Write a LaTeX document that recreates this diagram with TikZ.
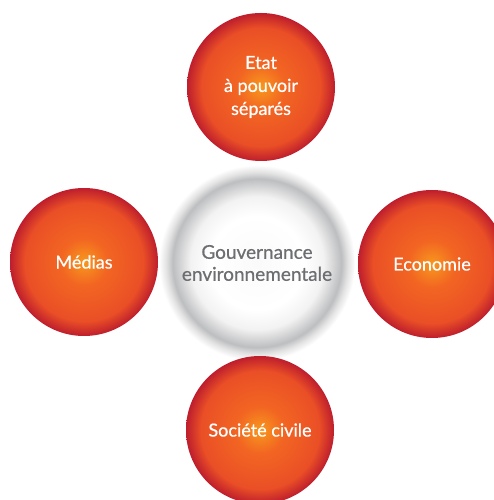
\documentclass[tikz,border=0pt]{standalone}
\usepackage{fontspec}
\setmainfont{Lato}
\newfontfamily\medfont{Lato}[FakeBold=0.6]
\definecolor{orbA}{HTML}{F8981D}
\definecolor{orbB}{HTML}{F26522}
\definecolor{orbC}{HTML}{EA4F26}
\definecolor{orbD}{HTML}{BE1E2D}
\definecolor{glowG}{HTML}{BDBEC0}
\definecolor{txtG}{HTML}{6D6E71}
\pgfdeclareradialshading{orb}{\pgfpoint{0bp}{0bp}}{color(0bp)=(orbA); color(8bp)=(orbB); color(20bp)=(orbC); color(25bp)=(orbD); color(50bp)=(orbD)}
\pgfdeclareradialshading{glow}{\pgfpoint{0bp}{0bp}}{color(0bp)=(white!96!gray); color(12bp)=(white); color(17bp)=(white!90!gray); color(21.5bp)=(glowG); color(23.2bp)=(white!78!gray); color(25bp)=(white); color(50bp)=(white)}
\tikzset{
  orbnode/.style={circle, minimum size=148pt, inner sep=0pt, shading=orb, text=white, font=\medfont\fontsize{18}{23}\selectfont, align=center},
  glownode/.style={circle, minimum size=196pt, inner sep=0pt, shading=glow, text=txtG, font=\medfont\fontsize{19}{22}\selectfont, align=center}
}
\begin{document}
\begin{tikzpicture}[x=1pt,y=1pt]
\useasboundingbox (0,0) rectangle (493,500);
\fill[white] (0,0) rectangle (493,500);
\node[glownode] (gouv) at (257,237) {Gouvernance\\environnementale};
\node[orbnode] (etat) at (261,413) {Etat\\à pouvoir\\séparés};
\node[orbnode] (medias) at (84,238) {Médias};
\node[orbnode] (eco) at (432,236) {Economie};
\node[orbnode] (soc) at (260,70) {Société civile};
\end{tikzpicture}
\end{document}
